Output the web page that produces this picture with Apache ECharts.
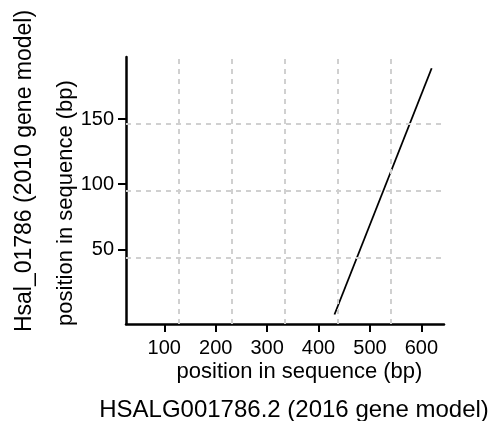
<!DOCTYPE html>
<html><head><meta charset="utf-8">
<script src="https://cdn.jsdelivr.net/npm/echarts@6/dist/echarts.min.js"></script>
<style>html,body{margin:0;padding:0;background:#fff}#c{width:503px;height:421px}</style>
</head><body><div id="c"></div>
<script>
// Data
var lineX = [431, 620];
var lineY = [0, 189];
var xTicks = [100, 200, 300, 400, 500, 600];
var yTicks = [50, 100, 150];
var gridX = [128.6, 232, 335, 438, 540];
var gridY = [43.9, 94.9, 146.2];
var xName = 'position in sequence (bp)';
var yName = 'position in sequence (bp)';
var xTitle = 'HSALG001786.2 (2016 gene model)';
var yTitle = 'Hsal_01786 (2010 gene model)';

var FONT = '"Liberation Sans", Arial, sans-serif';
var chart = echarts.init(document.getElementById('c'), null, {renderer: 'canvas'});
var pts = lineX.map(function (x, i) { return [x, lineY[i]]; });
var axisLineStyle = {color: '#000', width: 2.5};
chart.setOption({
  animation: false,
  grid: {left: 126, top: 57, right: 59, bottom: 97, containLabel: false},
  xAxis: {
    type: 'value', min: 25.5, max: 644,
    axisLine: {show: true, onZero: false, lineStyle: axisLineStyle},
    axisTick: {show: true, length: 8, lineStyle: {color: '#000', width: 2}, customValues: xTicks},
    axisLabel: {customValues: xTicks, color: '#000', fontSize: 20, fontFamily: FONT, margin: 14},
    splitLine: {show: false}
  },
  yAxis: {
    type: 'value', min: -7.3, max: 197.6,
    axisLine: {show: true, onZero: false, lineStyle: axisLineStyle},
    axisTick: {show: true, length: 8, lineStyle: {color: '#000', width: 2}, customValues: yTicks},
    axisLabel: {customValues: yTicks, color: '#000', fontSize: 20, fontFamily: FONT, margin: 12},
    splitLine: {show: false}
  },
  series: [
    {
      type: 'line', data: [], z: 1, silent: true,
      markLine: {
        silent: true, symbol: ['none', 'none'], label: {show: false},
        lineStyle: {color: '#d0d0d0', type: [5, 5], width: 2},
        data: gridX.map(function (v) { return {xAxis: v}; }).concat(gridY.map(function (v) { return {yAxis: v}; }))
      }
    },
    {
      type: 'line', data: pts, z: 3, showSymbol: false, symbol: 'none',
      lineStyle: {color: '#000', width: 1.8}
    }
  ],
  graphic: [
    {type: 'text', x: 299.5, y: 372, style: {text: xName, font: '22px ' + FONT, fill: '#000', textAlign: 'center', textVerticalAlign: 'middle'}},
    {type: 'text', x: 294, y: 410, style: {text: xTitle, font: '24px ' + FONT, fill: '#000', textAlign: 'center', textVerticalAlign: 'middle'}},
    {type: 'text', x: 66, y: 203, rotation: Math.PI / 2, style: {text: yName, font: '22px ' + FONT, fill: '#000', textAlign: 'center', textVerticalAlign: 'middle'}},
    {type: 'text', x: 25, y: 171, rotation: Math.PI / 2, style: {text: yTitle, font: '23px ' + FONT, fill: '#000', textAlign: 'center', textVerticalAlign: 'middle'}}
  ]
});
</script></body></html>
